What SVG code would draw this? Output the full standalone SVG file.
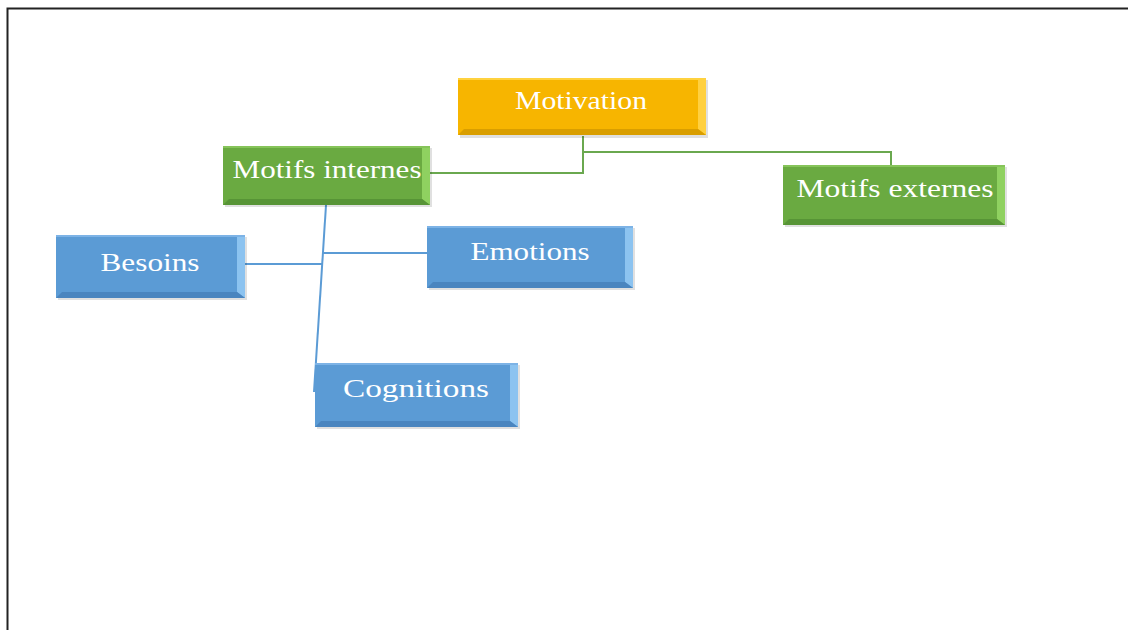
<svg xmlns="http://www.w3.org/2000/svg" width="1128" height="630" viewBox="0 0 1128 630">
<style>
.lbl{font-family:"Liberation Serif","Times New Roman",serif;font-size:26px;fill:#ffffff;text-anchor:middle}
.g line,.g polyline{fill:none;stroke:#6aa84f;stroke-width:2}
.b line,.b polyline{fill:none;stroke:#5b9bd5;stroke-width:2}
.o .m{fill:#f7b500}.o .r{fill:#ffd040}.o .d{fill:#d99e00}.o .t{fill:#ffd23f}
.gr .m{fill:#6aaa41}.gr .r{fill:#8fd160}.gr .d{fill:#579436}.gr .t{fill:#86c45a}
.bl .m{fill:#5b9bd5}.bl .r{fill:#8cc3f0}.bl .d{fill:#4a85bf}.bl .t{fill:#7db3e6}
.sh{fill:#000;opacity:0.12}
</style>
<rect width="1128" height="630" fill="#ffffff"/>
<path d="M7.5 630 V8.5 H1128" fill="none" stroke="#222" stroke-width="2"/>
<g id="connectors">
<g class="g">
<polyline points="583,136 583,173 430,173"/>
<polyline points="583,152 891,152 891,165"/>
</g>
<g class="b">
<line x1="326" y1="205" x2="314" y2="392"/>
<line x1="323" y1="253" x2="427" y2="253"/>
<line x1="245" y1="264" x2="322" y2="264"/>
</g>
</g>
<g id="motivation" class="o">
<rect class="sh" x="460" y="80" width="248" height="58"/>
<rect class="m" x="458" y="78" width="248" height="57"/>
<polygon class="r" points="698,78 706,78 706,135 698,129"/>
<polygon class="d" points="458,135 706,135 698,129 464,129"/>
<rect class="t" x="458" y="78" width="248" height="2"/>
<text class="lbl" x="581" y="109" textLength="132" lengthAdjust="spacingAndGlyphs">Motivation</text>
</g>
<g id="motifs-internes" class="gr">
<rect class="sh" x="225" y="148" width="207" height="59"/>
<rect class="m" x="223" y="146" width="207" height="59"/>
<polygon class="r" points="422,146 430,146 430,205 422,199"/>
<polygon class="d" points="223,205 430,205 422,199 229,199"/>
<rect class="t" x="223" y="146" width="207" height="2"/>
<text class="lbl" x="327" y="178" textLength="189" lengthAdjust="spacingAndGlyphs">Motifs internes</text>
</g>
<g id="motifs-externes" class="gr">
<rect class="sh" x="785" y="167" width="222" height="60"/>
<rect class="m" x="783" y="165" width="222" height="60"/>
<polygon class="r" points="997,165 1005,165 1005,225 997,219"/>
<polygon class="d" points="783,225 1005,225 997,219 789,219"/>
<rect class="t" x="783" y="165" width="222" height="2"/>
<text class="lbl" x="895" y="197" textLength="197" lengthAdjust="spacingAndGlyphs">Motifs externes</text>
</g>
<g id="besoins" class="bl">
<rect class="sh" x="58" y="237" width="189" height="63"/>
<rect class="m" x="56" y="235" width="189" height="63"/>
<polygon class="r" points="237,235 245,235 245,298 237,292"/>
<polygon class="d" points="56,298 245,298 237,292 62,292"/>
<rect class="t" x="56" y="235" width="189" height="2"/>
<text class="lbl" x="150" y="271" textLength="99" lengthAdjust="spacingAndGlyphs">Besoins</text>
</g>
<g id="emotions" class="bl">
<rect class="sh" x="429" y="228" width="206" height="62"/>
<rect class="m" x="427" y="226" width="206" height="62"/>
<polygon class="r" points="625,226 633,226 633,288 625,282"/>
<polygon class="d" points="427,288 633,288 625,282 433,282"/>
<rect class="t" x="427" y="226" width="206" height="2"/>
<text class="lbl" x="530" y="260" textLength="119" lengthAdjust="spacingAndGlyphs">Emotions</text>
</g>
<g id="cognitions" class="bl">
<rect class="sh" x="317" y="365" width="203" height="64"/>
<rect class="m" x="315" y="363" width="203" height="64"/>
<polygon class="r" points="510,363 518,363 518,427 510,421"/>
<polygon class="d" points="315,427 518,427 510,421 321,421"/>
<rect class="t" x="315" y="363" width="203" height="2"/>
<text class="lbl" x="416" y="397" textLength="146" lengthAdjust="spacingAndGlyphs">Cognitions</text>
</g>
</svg>
